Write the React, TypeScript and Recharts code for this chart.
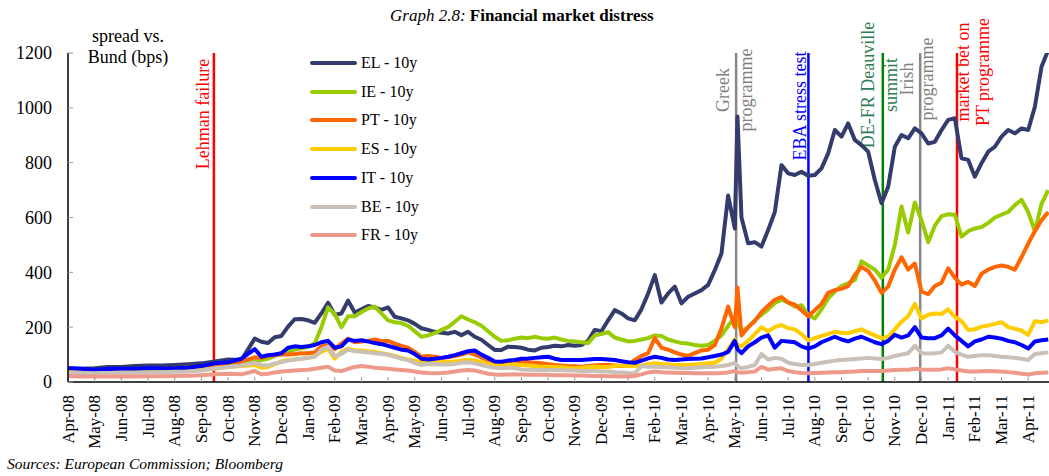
import React from 'react';
import { LineChart, Line, XAxis, YAxis, ReferenceLine } from 'recharts';

// month offsets from 1 Apr 2008 (0 = Apr-08, 36 = Apr-11)
const months = [
  0, 0.5, 1, 1.5, 2, 2.5, 3, 3.5, 4, 4.5, 5, 5.5, 6, 6.5, 7,
  7.25, 7.5, 7.75, 8, 8.25, 8.5, 8.75, 9,
  9.25, 9.5, 9.75, 10, 10.25, 10.5, 10.75, 11,
  11.25, 11.5, 11.75, 12, 12.25, 12.5, 12.75, 13,
  13.25, 13.5, 13.75, 14, 14.25, 14.5, 14.75, 15,
  15.25, 15.5, 15.75, 16, 16.25, 16.5, 16.75, 17,
  17.25, 17.5, 17.75, 18, 18.25, 18.5, 18.75, 19,
  19.25, 19.5, 19.75, 20, 20.25, 20.5, 20.75, 21,
  21.25, 21.5, 21.75, 22, 22.25, 22.5, 22.75, 23,
  23.25, 23.5, 23.75, 24, 24.25, 24.5, 24.75, 25,
  25.1, 25.25, 25.5, 25.75, 26,
  26.25, 26.5, 26.75, 27, 27.25, 27.5, 27.75, 28,
  28.25, 28.5, 28.75, 29, 29.25, 29.5, 29.75, 30,
  30.25, 30.5, 30.75, 31, 31.25, 31.5, 31.75, 32,
  32.25, 32.5, 32.75, 33, 33.25, 33.5, 33.75, 34,
  34.25, 34.5, 34.75, 35, 35.25, 35.5, 35.75, 36,
  36.25, 36.5, 36.75,
];

const el = [
  50, 48, 50, 55, 55, 58, 60, 60, 62, 65, 68, 75, 82, 80, 158,
  147, 142, 163, 168, 202, 229, 230, 225,
  216, 250, 289, 245, 250, 297, 253, 265,
  277, 272, 263, 272, 238, 232, 225, 212,
  196, 190, 183, 180, 177, 183, 171, 183,
  165, 154, 135, 117, 117, 129, 128, 125,
  118, 115, 125, 128, 132, 130, 135, 132,
  135, 150, 190, 185, 225, 262, 250, 232,
  225, 265, 323, 390, 290, 323, 348, 287,
  311, 323, 335, 354, 408, 469, 680, 560,
  968, 600, 506, 510, 494,
  554, 620, 791, 761, 755, 767, 752, 755,
  779, 834, 919, 895, 943, 883, 864, 840,
  737, 652, 712, 858, 901, 889, 925, 907,
  870, 876, 919, 956, 962, 816, 810, 749,
  798, 840, 858, 895, 919, 907, 925, 919,
  1004, 1150, 1210,
];

const ie = [
  40, 38, 40, 42, 42, 44, 45, 45, 46, 48, 50, 55, 62, 65, 75,
  80, 85, 95, 105, 110, 118, 123, 128,
  140, 200, 272, 248, 200, 240, 240, 255,
  268, 275, 250, 225, 218, 215, 205, 185,
  165, 170, 178, 190, 200, 220, 240, 228,
  218, 205, 185, 165, 150, 152, 158, 162,
  160, 165, 160, 158, 162, 155, 150, 148,
  145, 142, 170, 175, 182, 162, 155, 148,
  150, 155, 160, 170, 168, 155, 148, 142,
  140, 135, 132, 135, 150, 170, 205, 235,
  220, 185, 200, 225, 245,
  265, 288, 300, 290, 275, 280, 245, 232,
  265, 305, 330, 350, 360, 372, 440, 425,
  410, 380, 410, 500, 640, 545, 655, 590,
  510, 570, 605, 612, 610, 530, 550, 560,
  565, 580, 600, 610, 620, 645, 665, 620,
  550, 650, 700,
];

const pt = [
  45, 42, 42, 44, 45, 46, 47, 48, 50, 52, 55, 60, 70, 75, 90,
  88, 95, 98, 100, 100, 102, 105, 105,
  108, 130, 135, 120, 140, 158, 145, 148,
  150, 155, 150, 150, 140, 132, 125, 110,
  92, 95, 92, 88, 90, 95, 100, 108,
  100, 90, 80, 72, 70, 75, 78, 75,
  72, 70, 68, 65, 62, 60, 58, 57,
  56, 58, 60, 62, 62, 60, 58, 60,
  80, 95, 105, 160, 125, 118, 108, 100,
  95, 105, 115, 118, 135, 195, 275, 200,
  345, 170, 200, 222, 255,
  278, 300, 310, 290, 282, 262, 240, 262,
  285, 325, 335, 340, 350, 390, 420, 405,
  370, 325, 348, 410, 455, 410, 432, 330,
  320, 350, 362, 415, 380, 355, 365, 350,
  395, 410, 420, 425, 420, 410, 455, 505,
  550, 590, 620,
];

const es = [
  38, 36, 36, 38, 38, 40, 40, 41, 42, 43, 45, 48, 55, 58, 62,
  52, 55, 65, 75, 80, 82, 85, 88,
  95, 110, 122, 85, 110, 122, 115, 115,
  112, 110, 105, 100, 95, 88, 82, 78,
  72, 74, 75, 74, 72, 75, 78, 80,
  78, 72, 65, 62, 60, 62, 63, 62,
  60, 58, 56, 56, 55, 55, 52, 50,
  52, 55, 56, 55, 55, 58, 60, 58,
  58, 60, 65, 68, 66, 64, 62, 62,
  62, 64, 66, 68, 70, 85, 120, 155,
  135, 130, 150, 175, 200,
  185, 200, 208, 196, 192, 175, 152, 160,
  168, 175, 183, 180, 178, 185, 192, 180,
  170, 160, 165, 192, 220, 240, 285, 232,
  245, 250, 248, 265, 238, 222, 190, 192,
  202, 206, 212, 218, 200, 194, 188, 172,
  222, 218, 225,
];

const it = [
  50, 48, 45, 47, 48, 48, 50, 50, 50, 52, 58, 68, 72, 85, 120,
  92, 98, 100, 105, 125, 130, 128, 130,
  135, 145, 150, 125, 130, 155, 150, 152,
  148, 142, 138, 132, 125, 118, 115, 102,
  85, 82, 85, 88, 92, 98, 105, 112,
  115, 100, 88, 75, 74, 78, 80, 85,
  86, 88, 90, 92, 85, 80, 80, 80,
  80, 82, 84, 84, 82, 80, 76, 72,
  70, 78, 86, 92, 88, 82, 80, 82,
  84, 85, 86, 90, 95, 100, 110, 150,
  120, 105, 130, 145, 162,
  170, 125, 150, 148, 145, 130, 122, 130,
  145, 155, 165, 155, 148, 158, 165, 155,
  145, 138, 150, 172, 162, 170, 200, 162,
  160, 160, 170, 195, 170, 150, 130, 148,
  155, 165, 162, 158, 150, 145, 135, 122,
  148, 152, 155,
];

const be = [
  35, 33, 32, 33, 34, 34, 35, 36, 37, 38, 42, 50, 55, 60, 70,
  62, 60, 68, 72, 78, 82, 85, 88,
  92, 118, 128, 95, 102, 118, 112, 110,
  108, 105, 102, 100, 92, 85, 80, 70,
  62, 66, 65, 64, 64, 66, 70, 72,
  68, 62, 56, 52, 50, 52, 50, 46,
  45, 44, 44, 44, 44, 43, 42, 42,
  40, 40, 40, 38, 38, 36, 35, 33,
  32, 58, 56, 56, 55, 54, 52, 50,
  50, 52, 54, 55, 56, 58, 62, 70,
  58, 50, 55, 62, 102,
  82, 88, 85, 70, 66, 62, 62, 66,
  70, 74, 78, 80, 82, 84, 86, 88,
  86, 84, 88, 95, 100, 105, 132, 105,
  104, 105, 108, 132, 110, 100, 92, 95,
  98, 98, 95, 92, 90, 88, 85, 80,
  102, 105, 108,
];

const fr = [
  22, 20, 20, 20, 20, 20, 21, 21, 22, 23, 25, 28, 30, 28, 40,
  28, 30, 35, 38, 40, 42, 44, 45,
  48, 52, 56, 42, 40, 48, 55, 58,
  56, 52, 50, 48, 46, 44, 42, 38,
  35, 33, 32, 33, 35, 38, 42, 44,
  42, 36, 30, 27, 26, 27, 28, 27,
  26, 26, 26, 26, 25, 25, 25, 24,
  24, 23, 22, 22, 21, 21, 20, 20,
  22, 28, 35, 38, 36, 35, 34, 33,
  33, 32, 32, 32, 32, 33, 35, 40,
  36, 34, 36, 38, 55,
  45, 48, 50, 40, 36, 33, 32, 33,
  34, 35, 36, 36, 37, 38, 40, 40,
  40, 40, 42, 44, 45, 45, 48, 46,
  45, 45, 46, 50, 46, 42, 38, 38,
  39, 40, 39, 38, 36, 34, 30, 27,
  32, 34, 35,
];

const monthLabels = [
  'Apr-08', 'May-08', 'Jun-08', 'Jul-08', 'Aug-08', 'Sep-08', 'Oct-08', 'Nov-08', 'Dec-08',
  'Jan-09', 'Feb-09', 'Mar-09', 'Apr-09', 'May-09', 'Jun-09', 'Jul-09', 'Aug-09', 'Sep-09',
  'Oct-09', 'Nov-09', 'Dec-09', 'Jan-10', 'Feb-10', 'Mar-10', 'Apr-10', 'May-10', 'Jun-10',
  'Jul-10', 'Aug-10', 'Sep-10', 'Oct-10', 'Nov-10', 'Dec-10', 'Jan-11', 'Feb-11', 'Mar-11',
  'Apr-11',
];

const yTicks = [0, 200, 400, 600, 800, 1000, 1200];

const series = [
  { key: 'EL', name: 'EL - 10y', values: el, color: '#343b6d' },
  { key: 'IE', name: 'IE - 10y', values: ie, color: '#99cc00' },
  { key: 'PT', name: 'PT - 10y', values: pt, color: '#ff6600' },
  { key: 'ES', name: 'ES - 10y', values: es, color: '#ffcc00' },
  { key: 'IT', name: 'IT - 10y', values: it, color: '#0000ff' },
  { key: 'BE', name: 'BE - 10y', values: be, color: '#c9c0b8' },
  { key: 'FR', name: 'FR - 10y', values: fr, color: '#ee9a8a' },
];

// event markers: month offset, line colour, text colour, text pieces (dx from line, centre y)
const events = [
  { m: 5.47, line: '#ff0000', text: '#ff0000', cy: 114, parts: [{ t: 'Lehman failure', dx: -11 }] },
  { m: 25.05, line: '#888888', text: '#808080', cy: 90, parts: [{ t: 'Greek', dx: -13 }, { t: 'programme', dx: 10 }] },
  { m: 27.76, line: '#0000ff', text: '#0000ff', cy: 106, parts: [{ t: 'EBA stress test', dx: -8 }] },
  { m: 30.55, line: '#008000', text: '#2e7d55', cy: 85, parts: [{ t: 'DE-FR Deauville', dx: -15 }, { t: 'summit', dx: 8 }] },
  { m: 31.95, line: '#888888', text: '#808080', cy: 79, parts: [{ t: 'Irish', dx: -13 }, { t: 'programme', dx: 7 }] },
  { m: 33.33, line: '#ff0000', text: '#ff0000', cy: 72, parts: [{ t: 'market bet on', dx: 6 }, { t: 'PT programme', dx: 26 }] },
];

const FONT = '"Liberation Serif", "Times New Roman", serif';

const chartData = months.map((m, i) => {
  const row: Record<string, number> = { m };
  series.forEach(s => {
    row[s.key] = s.values[i];
  });
  return row;
});

function MonthTick(props: any) {
  const { x, payload } = props;
  const y = 395;
  return (
    <text
      x={x}
      y={y}
      transform={`rotate(-90 ${x} ${y})`}
      textAnchor="end"
      dy="0.33em"
      fontSize={17}
      fontFamily={FONT}
      fill="#000"
    >
      {monthLabels[Math.round(payload.value)]}
    </text>
  );
}

function EventLabel(props: any) {
  const { viewBox, parts, color, cy } = props;
  const lx = viewBox ? viewBox.x : 0;
  return (
    <g>
      {parts.map((p: { t: string; dx: number }) => {
        const x = lx + p.dx;
        return (
          <text
            key={p.t}
            x={x}
            y={cy}
            transform={`rotate(-90 ${x} ${cy})`}
            textAnchor="middle"
            dy="0.33em"
            fontSize={18}
            fontFamily={FONT}
            fill={color}
          >
            {p.t}
          </text>
        );
      })}
    </g>
  );
}

function SpreadLegend() {
  return (
    <div>
      {series.map((s, i) => (
        <div
          key={s.key}
          style={{
            position: 'absolute',
            left: 310,
            top: 63 + i * 28.7 - 10,
            height: 20,
            display: 'flex',
            alignItems: 'center',
          }}
        >
          <div style={{ width: 47, height: 4, borderRadius: 2, background: s.color }} />
          <span style={{ marginLeft: 4, fontSize: 16, fontFamily: FONT, color: '#000', whiteSpace: 'nowrap' }}>
            {s.name}
          </span>
        </div>
      ))}
    </div>
  );
}

export default function App() {
  return (
    <div
      style={{
        position: 'absolute',
        left: 0,
        top: 0,
        width: 1049,
        height: 476,
        background: '#fff',
        fontFamily: FONT,
        overflow: 'hidden',
      }}
    >
      <div style={{ position: 'absolute', left: 390, top: 6, fontSize: 17, fontFamily: FONT, whiteSpace: 'nowrap' }}>
        <i>Graph 2.8:</i> <b>Financial market distress</b>
      </div>

      <LineChart
        width={1049}
        height={476}
        data={chartData}
        margin={{ top: 53, right: 0, bottom: 0, left: 0 }}
      >
        <XAxis
          dataKey="m"
          type="number"
          domain={[0, 36.78]}
          ticks={monthLabels.map((_, i) => i)}
          interval={0}
          height={94}
          axisLine={{ stroke: '#000', strokeWidth: 1.5 }}
          tickLine={{ stroke: '#999' }}
          tickSize={-5}
          tick={<MonthTick />}
        />
        <YAxis
          type="number"
          domain={[0, 1200]}
          ticks={yTicks}
          allowDataOverflow
          width={68}
          axisLine={{ stroke: '#000', strokeWidth: 1.5 }}
          tickLine={{ stroke: '#999' }}
          tickSize={-5}
          tickMargin={21}
          tick={{ fontSize: 18, fill: '#000', fontFamily: FONT }}
        />
        {events.map(e => (
          <ReferenceLine
            key={e.m}
            x={e.m}
            stroke={e.line}
            strokeWidth={2.5}
            label={<EventLabel parts={e.parts} color={e.text} cy={e.cy} />}
          />
        ))}
        {series.map(s => (
          <Line
            key={s.key}
            dataKey={s.key}
            name={s.name}
            stroke={s.color}
            strokeWidth={4}
            strokeLinejoin="round"
            dot={false}
            activeDot={false}
            isAnimationActive={false}
          />
        ))}
      </LineChart>

      <div
        style={{
          position: 'absolute',
          left: 68,
          top: 26,
          width: 120,
          textAlign: 'center',
          fontSize: 18,
          fontFamily: FONT,
          lineHeight: '21px',
        }}
      >
        spread vs.
        <br />
        Bund (bps)
      </div>

      <SpreadLegend />

      <div
        style={{
          position: 'absolute',
          left: 7,
          top: 455,
          fontSize: 15.5,
          fontFamily: FONT,
          fontStyle: 'italic',
          whiteSpace: 'nowrap',
        }}
      >
        Sources: European Commission; Bloomberg
      </div>
    </div>
  );
}
